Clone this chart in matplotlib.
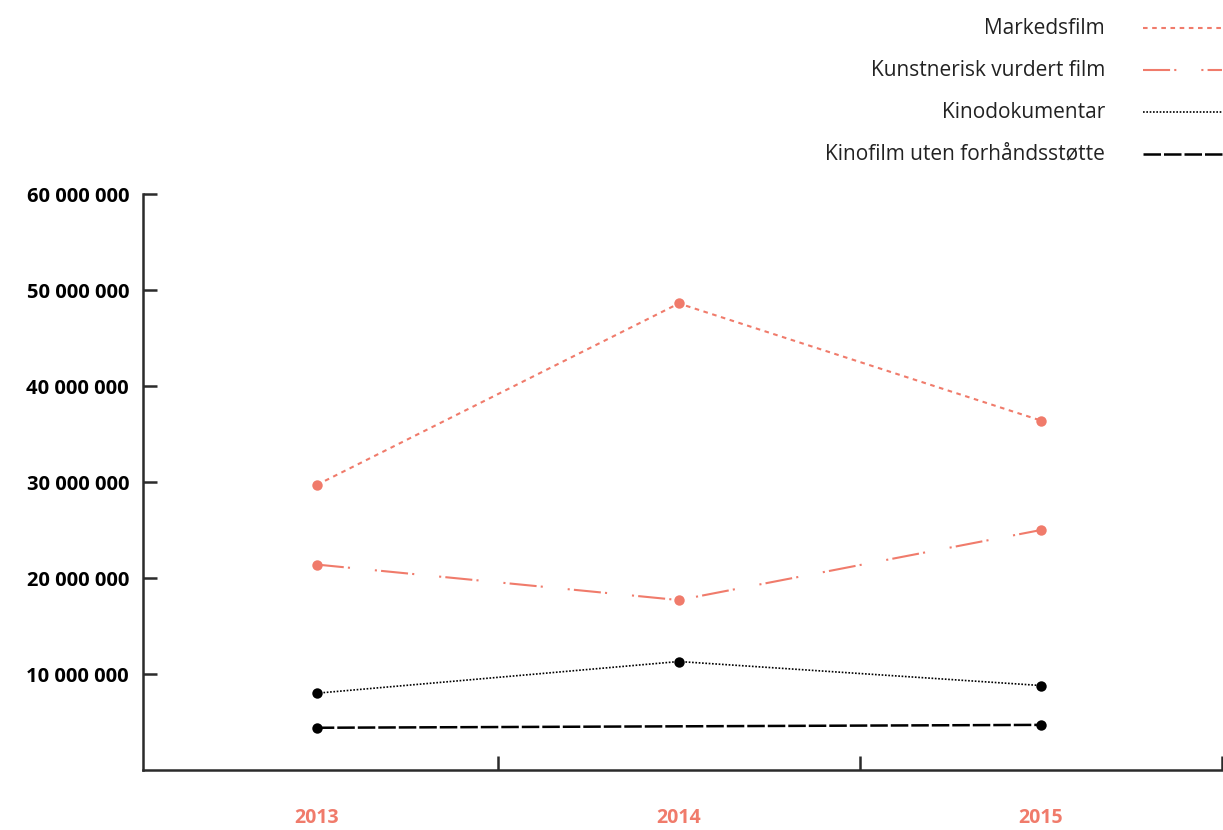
import numpy as np
import matplotlib.pyplot as plt
from matplotlib.lines import Line2D

years = ['2013', '2014', '2015']
markedsfilm = [29.7e6, 48.6e6, 36.4e6]
kunstnerisk = [21.4e6, 17.7e6, 25.0e6]
kinodok = [8.0e6, 11.3e6, 8.8e6]
uten_stotte = [4.4e6, np.nan, 4.7e6]   # no point drawn for 2014
yticks = [10e6, 20e6, 30e6, 40e6, 50e6, 60e6]

salmon = '#f07b6b'
dark = '#2b2b2b'
plt.rcParams['font.family'] = ['Open Sans', 'DejaVu Sans']

fig = plt.figure(figsize=(12.23, 8.3), dpi=100)
ax = fig.add_axes([143/1223, 60/830, 1079/1223, 576/830])

styles = [
    ('Markedsfilm', markedsfilm, salmon, 1.5, (0, (2.2, 2.2))),
    ('Kunstnerisk vurdert film', kunstnerisk, salmon, 1.5, (0, (13, 2, 1, 12, 1, 2))),
    ('Kinodokumentar', kinodok, 'black', 1.2, (0, (1, 1))),
    ('Kinofilm uten forhåndsstøtte', uten_stotte, 'black', 1.8, (0, (7, 1.2))),
]

x = np.arange(len(years))
for name, vals, col, lw, ls in styles:
    v = np.array(vals, dtype=float)
    ok = ~np.isnan(v)
    ax.plot(x[ok], v[ok], color=col, lw=lw, linestyle=ls)
    ax.plot(x[ok], v[ok], 'o', color=col, ms=7.5, mec='none')

ax.set_xlim(-0.48, 2.5)
ax.set_ylim(0, 60e6)
ax.set_yticks(yticks)
ax.set_yticklabels([f'{int(t):,}'.replace(',', ' ') for t in yticks],
                   fontsize=14.5, fontweight='bold', color='black')
ax.set_xticks([0.5, 1.5, 2.5])
ax.set_xticklabels([])
ax.set_xticks(x, minor=True)
ax.set_xticklabels(years, minor=True, fontsize=14, fontweight='bold', color=salmon)
ax.tick_params(axis='x', which='minor', length=0, pad=27)
ax.tick_params(axis='both', which='major', direction='in', length=10, width=1.8, color=dark)
ax.tick_params(axis='y', pad=10)

for s in ['top', 'right']:
    ax.spines[s].set_visible(False)
for s in ['left', 'bottom']:
    ax.spines[s].set_color(dark)
    ax.spines[s].set_linewidth(1.8)

# legend on the top right
for i, (name, vals, col, lw, ls) in enumerate(styles):
    yy = 1 - (28 + 42*i) / 830
    fig.text(1105/1223, yy, name, ha='right', va='center', fontsize=15, color='#222222')
    fig.add_artist(Line2D([1143/1223, 1222/1223], [yy, yy], color=col, lw=lw,
                          linestyle=ls, transform=fig.transFigure))

fig.savefig('out.png', dpi=100)
